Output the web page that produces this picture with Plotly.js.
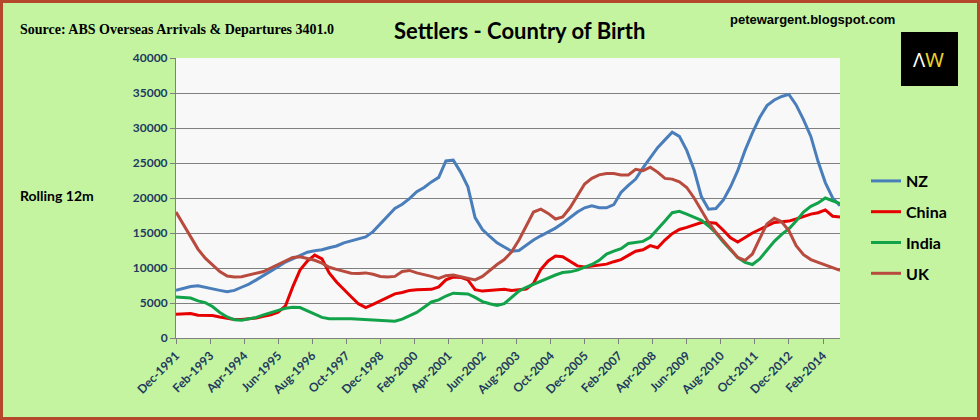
<!DOCTYPE html>
<html>
<head>
<meta charset="utf-8">
<script src="https://cdn.plot.ly/plotly-3.0.1.min.js"></script>
<style>
  html, body { margin: 0; padding: 0; background: #c4f4a0; }
  #wrap { position: relative; width: 980px; height: 420px; }
  #chart { width: 980px; height: 420px; }
  #frame { position: absolute; left: 0; top: 0; width: 980px; height: 420px;
           box-sizing: border-box; border: 3px solid #b5472d; pointer-events: none; }
</style>
</head>
<body>
<div id="wrap">
  <div id="chart"></div>
  <div id="frame"></div>
</div>
<script>
// quarterly readings of the rolling 12 month settler arrivals, from Dec-1991
const startYear = 1991, startMonth = 12, stepMonths = 3;

const nz = [6800,7100,7350,7450,7200,6950,6800,6600,6800,7250,
  7700,8300,8900,9550,10200,10850,11350,11800,12250,12450,
  12600,12900,13150,13600,13900,14200,14450,15200,16300,17500,
  18500,19100,19900,20900,21500,22300,22950,25300,25400,23700,
  21600,17200,15500,14500,13600,13000,12400,12500,13300,14000,
  14600,15100,15700,16400,17200,18000,18600,18900,18600,18600,
  19050,20800,21800,22700,24300,25800,27200,28300,29400,28800,
  26800,24000,20200,18400,18500,19700,21600,23900,26800,29300,
  31500,33200,34000,34500,34800,33300,31200,28800,25200,22200,
  20000,18900];

const china = [3400,3450,3500,3250,3200,3200,3000,2850,2650,2650,
  2700,2850,3100,3300,3700,4600,7300,9700,11000,11850,
  11300,9300,8000,6900,5900,4900,4350,4800,5300,5800,
  6300,6500,6800,6900,6900,6950,7300,8300,8700,8650,
  8300,6900,6700,6800,6900,6950,6800,6850,7000,7800,
  9800,11000,11700,11600,10900,10300,10150,10300,10400,10550,
  10900,11200,11800,12400,12600,13200,12900,14000,14900,15500,
  15800,16100,16500,16500,16400,15400,14300,13700,14400,15000,
  15500,16000,16500,16600,16700,17000,17400,17700,17900,18300,
  17400,17300];

const india = [5850,5800,5700,5300,5050,4500,3650,3000,2600,2550,
  2700,2950,3300,3650,3950,4250,4400,4350,3850,3350,
  2950,2750,2700,2750,2750,2700,2650,2550,2450,2400,
  2400,2700,3150,3650,4400,5150,5450,6000,6400,6350,
  6300,5800,5200,4900,4650,4900,5850,6700,7250,7700,
  8100,8500,9000,9350,9450,9700,10050,10500,11100,12000,
  12400,12750,13500,13700,13800,14400,15500,16700,17900,18100,
  17700,17300,16800,16000,15000,13700,12600,11500,10800,10500,
  11300,12500,13800,14800,15600,16700,18000,18800,19300,20000,
  19600,19200];

const uk = [18000,16300,14500,12700,11400,10400,9500,8850,8700,8750,
  9000,9200,9500,10000,10500,11000,11500,11600,11350,11100,
  10700,10100,9800,9500,9250,9200,9300,9100,8800,8700,
  8800,9500,9650,9300,9100,8800,8500,8900,9000,8800,
  8500,8300,8800,9700,10500,11200,12300,14000,16000,18000,
  18400,17800,17000,17300,18600,20300,22000,22800,23300,23500,
  23500,23300,23300,24100,23900,24400,23700,22800,22700,22300,
  21500,20000,18300,16500,15100,13900,12600,11500,11100,12000,
  14200,16300,17100,16600,15300,13200,11900,11200,10800,10450,
  10000,9650];

const tickLabels = ['Dec-1991','Feb-1993','Apr-1994','Jun-1995','Aug-1996','Oct-1997',
  'Dec-1998','Feb-2000','Apr-2001','Jun-2002','Aug-2003','Oct-2004','Dec-2005',
  'Feb-2007','Apr-2008','Jun-2009','Aug-2010','Oct-2011','Dec-2012','Feb-2014'];

const monthNames = ['Jan','Feb','Mar','Apr','May','Jun','Jul','Aug','Sep','Oct','Nov','Dec'];

function isoMonth(y, m) {
  return y + '-' + String(m).padStart(2, '0') + '-01';
}

const dates = nz.map(function (_, i) {
  const k = (startMonth - 1) + i * stepMonths;
  return isoMonth(startYear + Math.floor(k / 12), (k % 12) + 1);
});

const tickVals = tickLabels.map(function (t) {
  const parts = t.split('-');
  return isoMonth(parseInt(parts[1], 10), monthNames.indexOf(parts[0]) + 1);
});

// plot area in page pixels, used to place the free text
const L = 176, R = 840, T = 58, B = 338;
function px(x) { return (x - L) / (R - L); }
function py(y) { return (B - y) / (B - T); }

function series(name, y, color) {
  return {
    x: dates, y: y, name: name, type: 'scatter', mode: 'lines',
    legendgroup: name,
    line: { color: color, width: 3 }
  };
}

const data = [
  series('NZ', nz, '#4a7ebb'),
  series('China', china, '#e60000'),
  series('India', india, '#12a34a'),
  series('UK', uk, '#b84a3e')
];

const tickFont = { family: 'Lato', size: 12, color: '#1f3a60', weight: 'bold' };

const layout = {
  width: 980, height: 420,
  margin: { l: L, r: 980 - R, t: T, b: 420 - B },
  paper_bgcolor: '#c4f4a0',
  plot_bgcolor: '#f8f8f8',
  showlegend: true,
  legend: {
    x: px(866), xanchor: 'left', y: py(164), yanchor: 'top',
    bgcolor: 'rgba(0,0,0,0)', traceorder: 'grouped', tracegroupgap: 7,
    font: { family: 'Lato', size: 16, color: '#000', weight: 'bold' }
  },
  xaxis: {
    type: 'date',
    range: [dates[0], dates[dates.length - 1]],
    tickvals: tickVals, ticktext: tickLabels, tickangle: -45,
    ticks: 'outside', ticklen: 5, tickcolor: '#808080',
    showline: true, linecolor: '#808080', linewidth: 1,
    showgrid: false, zeroline: false,
    tickfont: tickFont
  },
  yaxis: {
    range: [0, 40000], dtick: 5000, tickformat: 'd',
    ticks: 'outside', ticklen: 5, tickcolor: '#808080',
    showline: true, linecolor: '#808080', linewidth: 1,
    gridcolor: '#808080', gridwidth: 1, zeroline: false,
    tickfont: tickFont
  },
  shapes: [{
    type: 'rect', xref: 'paper', yref: 'paper',
    x0: px(901), x1: px(958), y0: py(86), y1: py(32),
    fillcolor: '#000', line: { width: 0 }, layer: 'above'
  }],
  annotations: [
    { text: 'Source: ABS Overseas Arrivals &amp; Departures 3401.0',
      xref: 'paper', yref: 'paper', x: px(18), y: py(30), xanchor: 'left', yanchor: 'middle',
      showarrow: false, font: { family: 'Liberation Serif', size: 14, color: '#000', weight: 'bold' } },
    { text: 'Settlers - Country of Birth',
      xref: 'paper', yref: 'paper', x: px(519), y: py(31), xanchor: 'center', yanchor: 'middle',
      showarrow: false, font: { family: 'Lato', size: 22, color: '#000', weight: 'bold' } },
    { text: 'petewargent.blogspot.com',
      xref: 'paper', yref: 'paper', x: px(728), y: py(19), xanchor: 'left', yanchor: 'middle',
      showarrow: false, font: { family: 'Liberation Sans', size: 13, color: '#000', weight: 'bold' } },
    { text: 'Rolling 12m',
      xref: 'paper', yref: 'paper', x: px(18), y: py(195), xanchor: 'left', yanchor: 'middle',
      showarrow: false, font: { family: 'Lato', size: 14, color: '#000', weight: 'bold' } },
    { text: '<span style="color:#ffffff">Λ</span><span style="color:#e8d22a">W</span>',
      xref: 'paper', yref: 'paper', x: px(929), y: py(59), xanchor: 'center', yanchor: 'middle',
      showarrow: false, font: { family: 'Noto Sans', size: 20, color: '#fff' } }
  ]
};

Plotly.newPlot('chart', data, layout, { displayModeBar: false, staticPlot: true });
</script>
</body>
</html>
